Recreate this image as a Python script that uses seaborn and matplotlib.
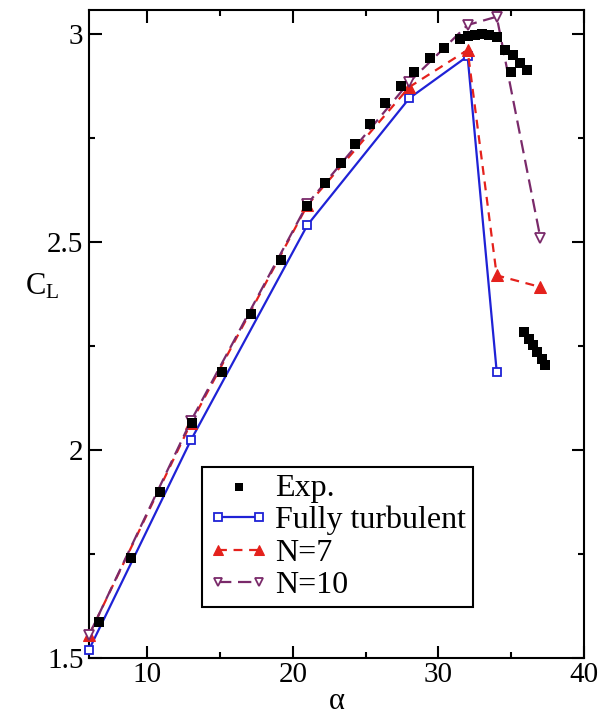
import matplotlib
matplotlib.use("Agg")
import matplotlib.pyplot as plt
import seaborn as sns
from matplotlib.ticker import MultipleLocator, FuncFormatter

# Experimental lift coefficient
alpha_exp = [6.7, 8.9, 10.9, 13.1, 15.1, 17.1, 19.2, 21.0, 22.2, 23.3, 24.3,
             25.3, 26.3, 27.4, 28.3, 29.4, 30.4, 31.5, 32.0, 32.5, 33.0, 33.5,
             34.0, 34.6, 35.0, 35.1, 35.6, 36.1,
             35.9, 36.2, 36.5, 36.8, 37.1, 37.3]
cl_exp = [1.587, 1.740, 1.899, 2.065, 2.188, 2.327, 2.457, 2.587, 2.642, 2.690, 2.736,
          2.784, 2.834, 2.875, 2.909, 2.942, 2.966, 2.988, 2.995, 2.998, 3.000, 2.998,
          2.992, 2.962, 2.909, 2.950, 2.930, 2.913,
          2.284, 2.268, 2.252, 2.236, 2.220, 2.205]

# Fully turbulent computation
alpha_ft = [6, 13, 21, 28, 32, 34]
cl_ft = [1.520, 2.024, 2.541, 2.846, 2.947, 2.188]

# Transition model, N=7
alpha_n7 = [6, 13, 21, 28, 32, 34, 37]
cl_n7 = [1.555, 2.065, 2.589, 2.873, 2.962, 2.420, 2.392]

# Transition model, N=10
alpha_n10 = [6, 13, 21, 28, 32, 34, 37]
cl_n10 = [1.555, 2.070, 2.592, 2.885, 3.022, 3.042, 2.510]

labels = ["Exp.", "Fully turbulent", "N=7", "N=10"]
yticks = [1.5, 2.0, 2.5, 3.0]

BLUE = "#1f22d6"
RED = "#e4211c"
PURPLE = "#7a2a6a"

sns.set_style("ticks")
plt.rcParams["font.family"] = ["Liberation Serif", "DejaVu Serif"]
plt.rcParams["mathtext.fontset"] = "custom"
plt.rcParams["mathtext.rm"] = "Liberation Serif"
plt.rcParams["mathtext.it"] = "Liberation Serif:italic"
for key in ("text.color", "axes.labelcolor", "xtick.color", "ytick.color",
            "axes.edgecolor"):
    plt.rcParams[key] = "black"

fig = plt.figure(figsize=(6.04, 7.18), dpi=100)
ax = fig.add_axes([0.1474, 0.0836, 0.8196, 0.9024])

sns.lineplot(x=alpha_ft, y=cl_ft, ax=ax, color=BLUE, linewidth=1.6,
             marker="s", markersize=6, markerfacecolor="white",
             markeredgecolor=BLUE, markeredgewidth=1.3, label=labels[1],
             clip_on=False, zorder=3)
sns.lineplot(x=alpha_n7, y=cl_n7, ax=ax, color=RED, linewidth=1.6,
             dashes=False, linestyle=(0, (4, 3)),
             marker="^", markersize=8, markerfacecolor=RED,
             markeredgecolor=RED, label=labels[2], clip_on=False, zorder=3)
sns.lineplot(x=alpha_n10, y=cl_n10, ax=ax, color=PURPLE, linewidth=1.6,
             dashes=False, linestyle=(0, (6, 3)),
             marker="v", markersize=7, markerfacecolor="white",
             markeredgecolor=PURPLE, markeredgewidth=1.3, label=labels[3],
             clip_on=False, zorder=3)
sns.scatterplot(x=alpha_exp, y=cl_exp, ax=ax, color="black", marker="s",
                s=55, edgecolor="black", linewidth=0, label=labels[0], zorder=4)

ax.set_xlim(6, 40)
ax.set_ylim(1.5, 3.058)
ax.xaxis.set_major_locator(MultipleLocator(10))
ax.xaxis.set_minor_locator(MultipleLocator(5))
ax.set_yticks(yticks)
ax.yaxis.set_minor_locator(MultipleLocator(0.25))
ax.yaxis.set_major_formatter(FuncFormatter(lambda v, p: f"{v:g}"))

ax.tick_params(which="both", direction="in", top=True, right=True,
               width=1.5, colors="black", labelsize=21)
ax.tick_params(which="major", length=9)
ax.tick_params(which="minor", length=4.5)
ax.tick_params(axis="x", pad=3)
ax.tick_params(axis="y", pad=4)
for sp in ax.spines.values():
    sp.set_linewidth(1.5)
    sp.set_color("black")

ax.set_xlabel("\u03b1", fontsize=22, labelpad=-1)
ax.set_ylabel(r"$\mathregular{C_L}$", fontsize=22, rotation=0)
ax.yaxis.set_label_coords(-0.095, 0.55)

handles, labs = ax.get_legend_handles_labels()
order = [labs.index(l) for l in labels]
leg = ax.legend([handles[i] for i in order], [labs[i] for i in order],
                loc="upper left", bbox_to_anchor=(0.228, 0.295),
                borderaxespad=0, frameon=True, fancybox=False,
                edgecolor="black", framealpha=1, fontsize=23,
                numpoints=2, scatterpoints=1, markerscale=0.85,
                handlelength=1.9, handletextpad=0.2, labelspacing=0.1,
                borderpad=0.2)
leg.get_frame().set_linewidth(1.5)

fig.savefig("out.png", dpi=100)
